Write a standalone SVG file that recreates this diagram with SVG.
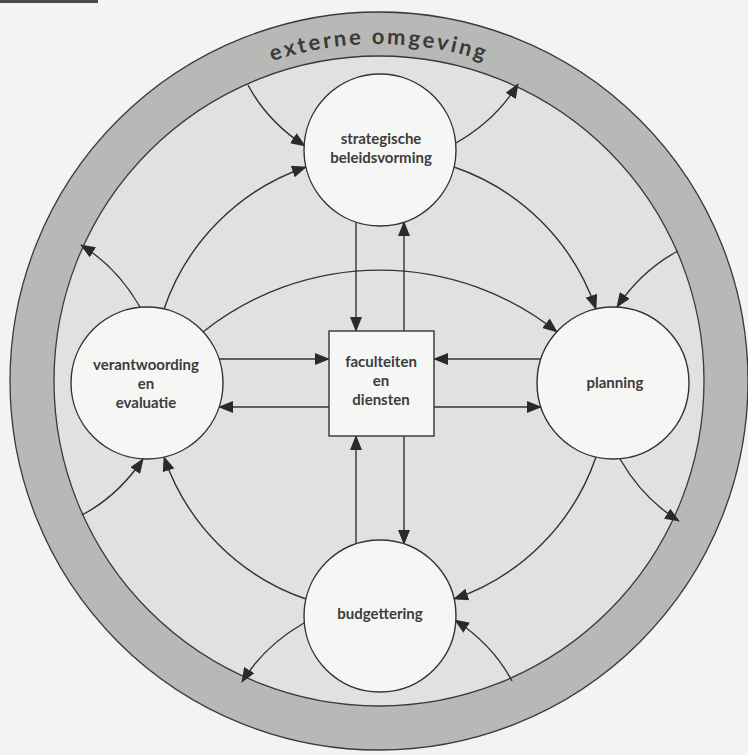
<svg xmlns="http://www.w3.org/2000/svg" width="748" height="755" viewBox="0 0 748 755">
<style>
.bg{fill:#f3f3f1}
.band{fill:#b8b8b7;stroke:#3a3a3a;stroke-width:1.3}
.inner{fill:#e1e1e0;stroke:#3a3a3a;stroke-width:1.3}
.node{fill:#f6f6f4;stroke:#333;stroke-width:1.4}
.conn path{fill:none;stroke:#333;stroke-width:1.4;marker-end:url(#ah)}
.lbl{font-family:Lato,"Open Sans","Liberation Sans",sans-serif;font-weight:700;font-size:15px;fill:#3c3c3c;text-anchor:middle}
.ring{font-family:Lato,"Open Sans","Liberation Sans",sans-serif;font-weight:700;font-size:22px;fill:#3a3a3a;letter-spacing:2.6px}
</style>
<defs>
<marker id="ah" markerUnits="userSpaceOnUse" markerWidth="15" markerHeight="12" viewBox="0 0 15 12" refX="14" refY="6" orient="auto">
<path d="M0,0 L15,6 L0,12 z" fill="#2a2a2a"/>
</marker>
<path id="ringpath" d="M42,381 A337,337 0 0 1 716,381"/>
</defs>
<rect class="bg" x="0" y="0" width="748" height="755"/>
<rect x="0" y="0" width="98" height="3" fill="#4a4a4a"/>
<g id="externe-omgeving">
<circle class="band" cx="379" cy="381" r="369"/>
<circle class="inner" cx="379" cy="381" r="325"/>
<text class="ring"><textPath href="#ringpath" startOffset="50%" text-anchor="middle">externe omgeving</textPath></text>
</g>
<g id="connectors" class="conn">
<path d="M248,85 Q267,121 305,146"/>
<path d="M456,143 Q496,120 518,84"/>
<path d="M678,251 Q642,270 617,307"/>
<path d="M620,459 Q643,499 679,521"/>
<path d="M512,681 Q493,645 455,620"/>
<path d="M304,623 Q264,646 242,682"/>
<path d="M82,515 Q118,496 143,459"/>
<path d="M140,307 Q117,267 81,245"/>
<path d="M454,167 A228,228 0 0 1 596,309"/>
<path d="M596,457 A228,228 0 0 1 454,599"/>
<path d="M306,599 A228,228 0 0 1 164,457"/>
<path d="M164,309 A228,228 0 0 1 306,167"/>
<path d="M203,332 A284,284 0 0 1 557,332"/>
<path d="M356,222 L356,331"/>
<path d="M404,331 L404,222"/>
<path d="M356,544 L356,436"/>
<path d="M404,436 L404,544"/>
<path d="M219,359 L329,359"/>
<path d="M329,407 L219,407"/>
<path d="M541,359 L434,359"/>
<path d="M434,407 L541,407"/>
</g>
<g id="strategische-beleidsvorming">
<circle class="node" cx="380" cy="150" r="76"/>
<text class="lbl" x="381" y="144">strategische</text>
<text class="lbl" x="381" y="163">beleidsvorming</text>
</g>
<g id="verantwoording-en-evaluatie">
<circle class="node" cx="147" cy="383" r="76"/>
<text class="lbl" x="146" y="370">verantwoording</text>
<text class="lbl" x="146" y="389">en</text>
<text class="lbl" x="146" y="408">evaluatie</text>
</g>
<g id="planning">
<circle class="node" cx="613" cy="383" r="76"/>
<text class="lbl" x="615" y="388">planning</text>
</g>
<g id="budgettering">
<circle class="node" cx="380" cy="616" r="76"/>
<text class="lbl" x="380" y="619">budgettering</text>
</g>
<g id="faculteiten-en-diensten">
<rect class="node" x="329" y="331" width="105" height="105"/>
<text class="lbl" x="381" y="367">faculteiten</text>
<text class="lbl" x="381" y="386">en</text>
<text class="lbl" x="381" y="405">diensten</text>
</g>
</svg>
